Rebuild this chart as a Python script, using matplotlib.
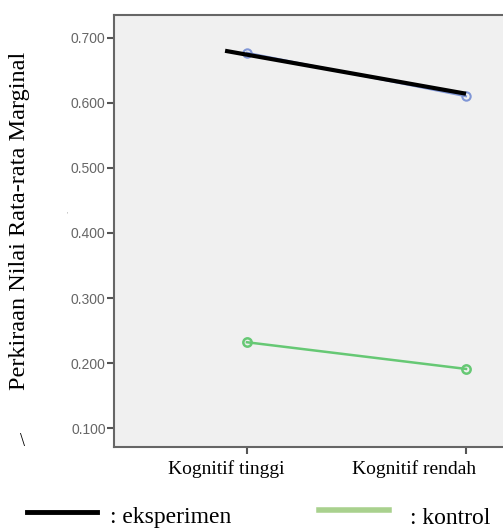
import numpy as np
import matplotlib.pyplot as plt

categories = ['Kognitif tinggi', 'Kognitif rendah']
eksperimen = [0.677, 0.610]
kontrol = [0.232, 0.191]
# black line drawn over the blue one (hand-drawn overlay in the original)
overlay_x = [-0.10, 1.0]
overlay_y = [0.680, 0.614]
yticks = [0.1, 0.2, 0.3, 0.4, 0.5, 0.6, 0.7]

fig = plt.figure(figsize=(5.03, 5.30), dpi=100)
W, H = 503, 530

def px(x0, y0, x1, y1):
    return [x0 / W, 1 - y1 / H, (x1 - x0) / W, (y1 - y0) / H]

ax = fig.add_axes(px(114, 15, 599, 447))
ax.set_facecolor('#f0f0f0')

x = np.arange(len(categories))
ax.plot(x, eksperimen, color='#8096d6', lw=1.5, marker='o', ms=6,
        mfc='none', mec='#8096d6', mew=1.5, zorder=3)
ax.plot(x, kontrol, color='#66c874', lw=1.8, marker='o', ms=6,
        mfc='none', mec='#66c874', mew=1.8, zorder=3)
ax.plot(overlay_x, overlay_y, color='black', lw=3, solid_capstyle='butt', zorder=4)

ax.set_xlim(-0.607, 1.607)
ax.set_ylim(0.071, 0.735)
ax.set_yticks(yticks)
ax.set_yticklabels([f'{v:.3f}' for v in yticks], fontfamily='Liberation Sans',
                   fontsize=10, color='#666666')
ax.set_xticks(x)
ax.set_xticklabels([])
# the category labels in the original sit a bit left of their ticks
for xi, lab, dx in zip(x, categories, [-21, -52]):
    ax.annotate(lab, xy=(xi, 0), xycoords=('data', 'axes fraction'),
                xytext=(dx, -22), textcoords='offset pixels', ha='center', va='center',
                fontfamily='Liberation Serif', fontsize=14, annotation_clip=False)
ax.tick_params(axis='y', direction='out', length=5, width=1.5, color='#555555', pad=1)
ax.tick_params(axis='x', direction='out', length=5, width=1.5, color='#555555')
for s in ax.spines.values():
    s.set_color('#666666')
    s.set_linewidth(1.5)

fig.text(20 / W, 1 - 221 / H, 'Perkiraan Nilai Rata-rata Marginal', rotation=90,
         ha='center', va='center', fontfamily='Liberation Serif', fontsize=17.5)
fig.text(22 / W, 1 - 441 / H, '\\', ha='center', va='center',
         fontfamily='Liberation Serif', fontsize=13)
fig.text(67 / W, 1 - 215 / H, "'", ha='center', va='center',
         fontfamily='Liberation Sans', fontsize=5, color='#999999')

# cut-off heading at the top
fig.text(27 / W, 1.0, 'Gambar 5.', ha='left', va='baseline',
         fontfamily='Liberation Serif', fontweight='bold', fontsize=20)

# manual legend under the chart
fig.add_artist(plt.Line2D([27 / W, 97 / W], [1 - 512 / H] * 2, color='black', lw=3.5))
fig.text(110 / W, 1 - 518 / H, ': eksperimen', ha='left', va='center',
         fontfamily='Liberation Serif', fontsize=17)
fig.add_artist(plt.Line2D([319 / W, 389 / W], [1 - 510 / H] * 2, color='#a9d18e', lw=4))
fig.text(410 / W, 1 - 518 / H, ': kontrol', ha='left', va='center',
         fontfamily='Liberation Serif', fontsize=17)

fig.savefig('out.png', dpi=100)
